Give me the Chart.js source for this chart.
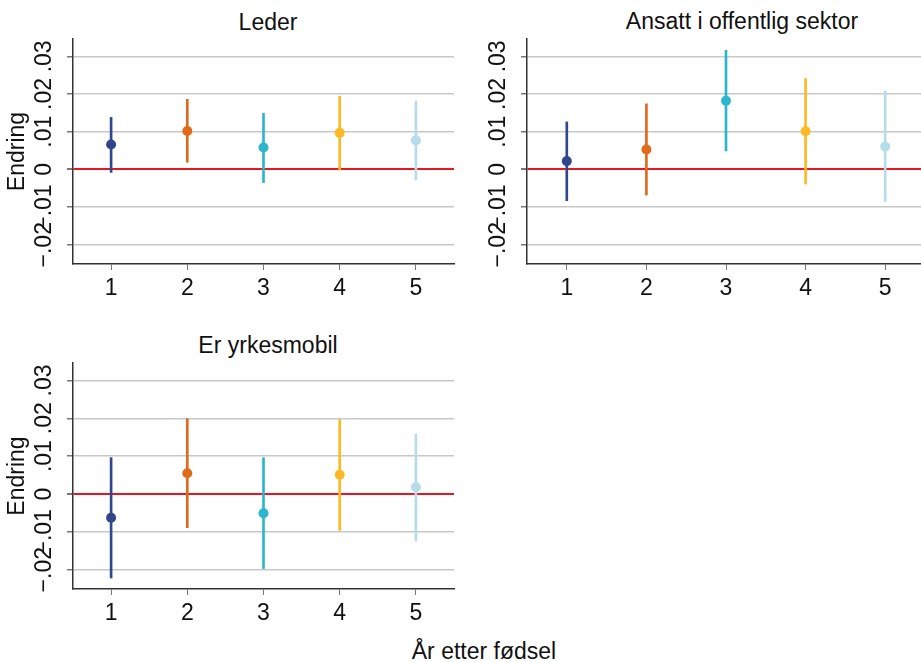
<!DOCTYPE html>
<html>
  <head>
    <title>Endring etter fødsel</title>
    <script src="https://cdn.jsdelivr.net/npm/chart.js"></script>
    <style>
      body { margin: 0; width: 921px; height: 662px; overflow: hidden; position: relative; background: #fff;
             font-family: "Liberation Sans", Arial, sans-serif; color: #111; }
      canvas { position: absolute; }
      .title { position: absolute; font-size: 23px; line-height: 23px; white-space: nowrap; transform: translateX(-50%); }
    </style>
  </head>
  <body>
    <div class="title" style="left:268px; top:11px;">Leder</div>
    <div class="title" style="left:742px; top:10px;">Ansatt i offentlig sektor</div>
    <div class="title" style="left:268px; top:334px;">Er yrkesmobil</div>
    <div class="title" style="left:484px; top:640px;">År etter fødsel</div>

    <canvas id="lederChart" width="460" height="300" style="left:0; top:0;"></canvas>
    <canvas id="offentligChart" width="470" height="300" style="left:460px; top:0;"></canvas>
    <canvas id="mobilChart" width="460" height="305" style="left:0; top:320px;"></canvas>

    <script>
      const years = ['1', '2', '3', '4', '5'];
      const yearColors = ['#32468c', '#e0691a', '#2bb6ce', '#fdb924', '#b4dde9'];

      // Leder
      const lederEst = [0.0066, 0.0102, 0.0058, 0.0097, 0.0077];
      const lederLow = [-0.0008, 0.0019, -0.0035, -0.0002, -0.0028];
      const lederHigh = [0.0138, 0.0186, 0.0149, 0.0194, 0.0181];

      // Ansatt i offentlig sektor
      const offentligEst = [0.0022, 0.0053, 0.0182, 0.0101, 0.0061];
      const offentligLow = [-0.0083, -0.0068, 0.0049, -0.0039, -0.0085];
      const offentligHigh = [0.0126, 0.0174, 0.0316, 0.0241, 0.0208];

      // Er yrkesmobil
      const mobilEst = [-0.0063, 0.0055, -0.0051, 0.0051, 0.0018];
      const mobilLow = [-0.0222, -0.0089, -0.0197, -0.0096, -0.0124];
      const mobilHigh = [0.0096, 0.0199, 0.0096, 0.0197, 0.0158];

      const yMin = -0.0251;
      const yMax = 0.0346;

      const font = { family: '"Liberation Sans", Arial, sans-serif', size: 23 };

      function fmt(v) {
        const r = Math.round(v * 100) / 100;
        if (r === 0) return '0';
        return (r < 0 ? '\u2212' : '') + Math.abs(r).toFixed(2).replace(/^0/, '');
      }

      function isZero(ctx) {
        return ctx.tick && Math.abs(ctx.tick.value) < 1e-9;
      }

      function makePanel(id, est, low, high, opts) {
        return new Chart(document.getElementById(id), {
          type: 'bar',
          data: {
            labels: years,
            datasets: [
              {
                type: 'line',
                data: est,
                showLine: false,
                pointRadius: 5,
                pointHoverRadius: 5,
                pointBorderWidth: 0,
                pointBackgroundColor: yearColors,
                order: 0
              },
              {
                data: low.map((l, i) => [l, high[i]]),
                backgroundColor: yearColors,
                borderWidth: 0,
                barThickness: 2,
                order: 1
              }
            ]
          },
          options: {
            responsive: false,
            animation: false,
            layout: { padding: opts.padding },
            plugins: { legend: { display: false }, tooltip: { enabled: false } },
            scales: {
              x: {
                offset: true,
                grid: { offset: false, drawOnChartArea: false, drawTicks: true, tickLength: 6, tickColor: '#777' },
                border: { color: '#333', width: 1.5 },
                ticks: { font: font, color: '#111', padding: 5 },
                afterFit: s => { s.height = 36; }
              },
              y: {
                min: yMin,
                max: yMax,
                grid: {
                  color: ctx => isZero(ctx) ? '#e8171f' : '#c8c8c8',
                  lineWidth: ctx => isZero(ctx) ? 2 : 1.5,
                  tickColor: '#777',
                  tickLength: 6
                },
                border: { color: '#333', width: 1.5 },
                ticks: {
                  stepSize: 0.01,
                  includeBounds: false,
                  autoSkip: false,
                  minRotation: 90,
                  maxRotation: 90,
                  crossAlign: 'center',
                  padding: 0,
                  font: font,
                  color: '#111',
                  callback: v => fmt(v)
                },
                title: { display: opts.yTitle, text: 'Endring', font: font, color: '#111' },
                afterFit: s => { s.width = opts.yWidth; }
              }
            }
          }
        });
      }

      makePanel('lederChart', lederEst, lederLow, lederHigh,
                { padding: { top: 39, right: 6, bottom: 0, left: 0 }, yWidth: 73, yTitle: true });
      makePanel('offentligChart', offentligEst, offentligLow, offentligHigh,
                { padding: { top: 39, right: 4, bottom: 0, left: 0 }, yWidth: 67, yTitle: false });
      makePanel('mobilChart', mobilEst, mobilLow, mobilHigh,
                { padding: { top: 43, right: 6, bottom: 0, left: 0 }, yWidth: 73, yTitle: true });
    </script>
  </body>
</html>
